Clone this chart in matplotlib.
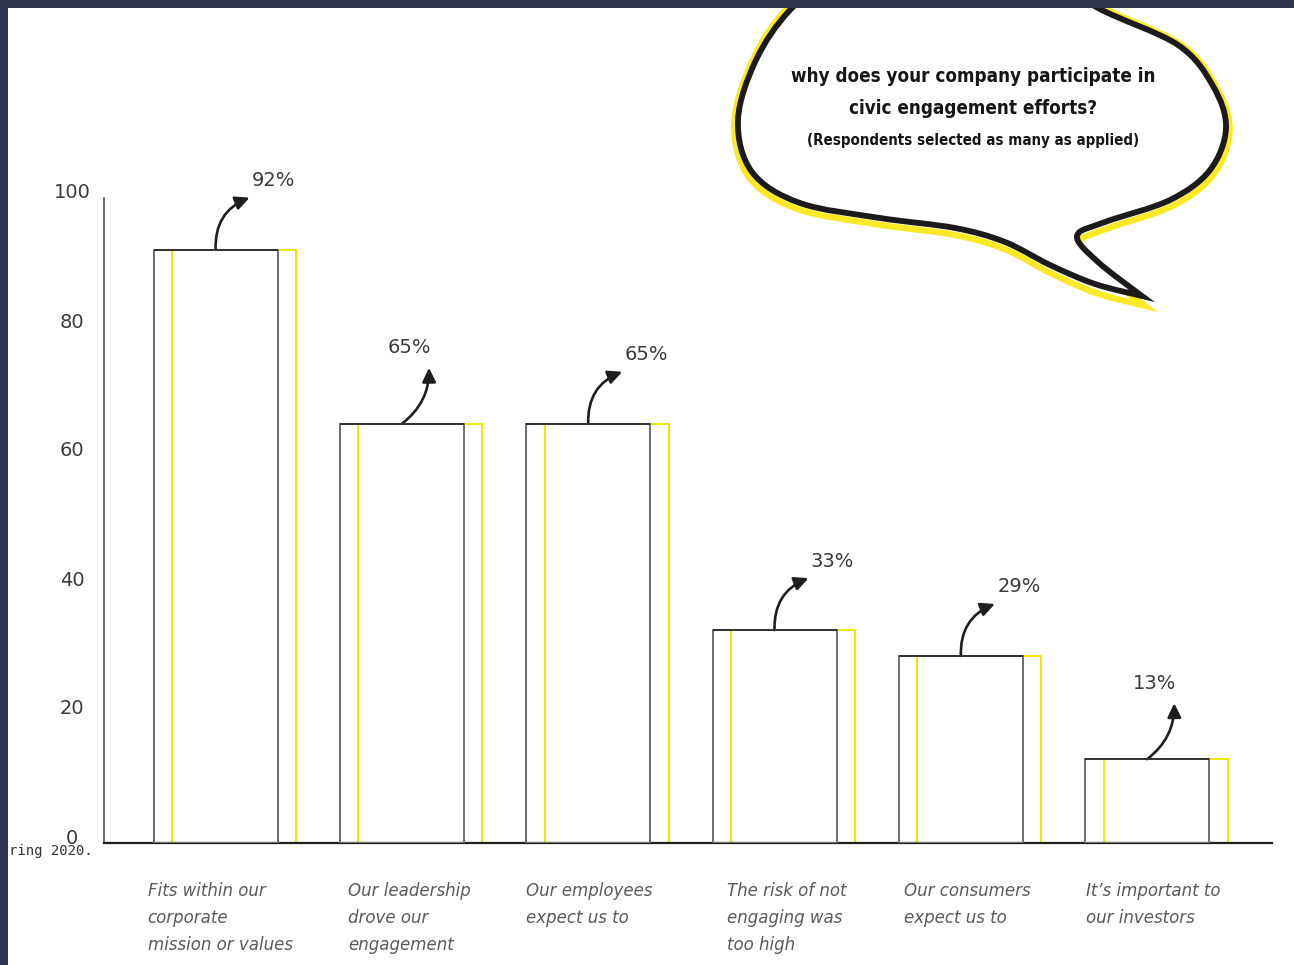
import numpy as np
import matplotlib
matplotlib.use("Agg")
import matplotlib.pyplot as plt
from matplotlib.path import Path
from matplotlib.patches import PathPatch, Rectangle

# data
categories = ["Fits within our\ncorporate\nmission or values",
              "Our leadership\ndrove our\nengagement",
              "Our employees\nexpect us to",
              "The risk of not\nengaging was\ntoo high",
              "Our consumers\nexpect us to",
              "It\u2019s important to\nour investors"]
percent = [92, 65, 65, 33, 29, 13]
yticks = [0, 20, 40, 60, 80, 100]
arrow_kind = ["right", "up", "right", "right", "right", "up"]
label_nudge = [-6, 8, 0, 14, 5, 1]  # px, labels are not quite aligned with bars

W, H = 1294, 965
fig = plt.figure(figsize=(W / 100, H / 100), dpi=100)
fig.patch.set_facecolor("white")

# main axes placed in pixel terms
ax = fig.add_axes([104 / W, 122 / H, 1168 / W, 645 / H])
ax.set_xlim(-0.599, 5.670)
ax.set_ylim(0, 100)
for s in ["top", "right"]:
    ax.spines[s].set_visible(False)
ax.spines["bottom"].set_color("#1e1e1e")
ax.spines["bottom"].set_linewidth(1.6)
ax.spines["left"].set_color("#444444")
ax.spines["left"].set_linewidth(1.1)
ax.set_xticks([])
ax.set_yticks([])

x = np.arange(len(percent))
bw = 0.666
shift = 0.099

# offset yellow outline first, grey outline on top
ax.bar(x + shift, percent, width=bw, facecolor="none", edgecolor="#f2e600", linewidth=1.4, zorder=2)
ax.bar(x, percent, width=bw, facecolor="none", edgecolor="#6e6e6e", linewidth=1.4, zorder=3)
ax.hlines(percent, x - bw / 2, x + bw / 2, color="#333333", linewidth=1.4, zorder=4)

# y tick labels, centered a bit left of the spine
ytr = ax.get_yaxis_transform()
for t in yticks:
    ax.annotate(str(t), xy=(-0.0274, t), xycoords=ytr, xytext=(0, 5), textcoords="offset pixels",
                ha="center", va="center", fontsize=14, color="#3a3a3a", annotation_clip=False)

# category labels
xtr = ax.get_xaxis_transform()
for i, lab in enumerate(categories):
    ax.annotate(lab, xy=(x[i] - bw / 2, -0.0600), xycoords=xtr, xytext=(label_nudge[i], 0),
                textcoords="offset pixels", ha="left", va="top", fontsize=12, style="italic",
                color="#5a5a5a", linespacing=1.66, annotation_clip=False)

# curved arrows + value labels
for i, v in enumerate(percent):
    if arrow_kind[i] == "right":
        tip, rad, lab = (34, 52), 0.35, (58, 69)
    else:
        tip, rad, lab = (27, 56), -0.25, (7, 76)
    ax.annotate("", xy=(x[i], v), xycoords="data", xytext=tip, textcoords="offset pixels",
                arrowprops=dict(arrowstyle="<|-,head_length=0.7,head_width=0.34", color="#1e1e1e",
                                lw=1.9, shrinkA=0, shrinkB=0, mutation_scale=12,
                                connectionstyle="arc3,rad=%s" % rad), annotation_clip=False)
    ax.annotate("%d%%" % v, xy=(x[i], v), xytext=lab, textcoords="offset pixels",
                ha="center", va="center", fontsize=14, color="#3a3a3a", annotation_clip=False)

# overlay in image pixel coordinates for the bubble and frame
ov = fig.add_axes([0, 0, 1, 1])
ov.set_xlim(0, W)
ov.set_ylim(H, 0)
ov.axis("off")
ov.patch.set_visible(False)


def catmull(pts):
    pts = np.asarray(pts, float)
    verts, n = [], len(pts)
    for i in range(n - 1):
        p0 = pts[max(i - 1, 0)]
        p1, p2 = pts[i], pts[i + 1]
        p3 = pts[min(i + 2, n - 1)]
        verts += [p1 + (p2 - p0) / 6, p2 - (p3 - p1) / 6, p2]
    return verts


seg_a = [(840, -30), (790, 10), (756, 60), (738, 120), (752, 172), (800, 203), (880, 218),
         (955, 228), (1005, 242), (1050, 265), (1095, 284), (1142, 296)]
seg_b = [(1142, 296), (1098, 262), (1077, 236), (1105, 222), (1170, 200), (1210, 170),
         (1226, 128), (1213, 86), (1178, 45), (1098, 8), (1040, -30)]
verts = [seg_a[0]] + catmull(seg_a) + catmull(seg_b) + [(940, -60), seg_a[0]]
codes = [Path.MOVETO] + [Path.CURVE4] * (len(verts) - 3) + [Path.LINETO, Path.CLOSEPOLY]
verts = np.array(verts, float)

cx, cy = 985, 130
yv = verts.copy()
yv[:, 0] = cx + (yv[:, 0] - cx) * 1.015
yv[:, 1] = cy + (yv[:, 1] - cy) * 1.04 + 3
ov.add_patch(PathPatch(Path(yv, codes), facecolor="white", edgecolor="#fbe925", lw=4.5, zorder=5))
ov.add_patch(PathPatch(Path(verts, codes), facecolor="white", edgecolor="#1c1a1a", lw=4.2, zorder=6))

bfont = dict(family="DejaVu Sans", stretch="condensed", weight="bold", color="#161616",
             ha="center", va="center", zorder=7)
ov.text(973, 77, "why does your company participate in", fontsize=13.5, **bfont)
ov.text(973, 108, "civic engagement efforts?", fontsize=13.5, **bfont)
ov.text(973, 141, "(Respondents selected as many as applied)", fontsize=10.8, **bfont)

# source fragment and dark frame
ov.text(9, 851, "ring 2020.", fontsize=10, family="DejaVu Sans Mono", color="#333333",
        ha="left", va="center", zorder=3)
ov.add_patch(Rectangle((0, 0), W, 8, facecolor="#2e3350", edgecolor="none", zorder=10))
ov.add_patch(Rectangle((0, 0), 8, H, facecolor="#2e3350", edgecolor="none", zorder=10))

fig.savefig("out.png", dpi=100)
